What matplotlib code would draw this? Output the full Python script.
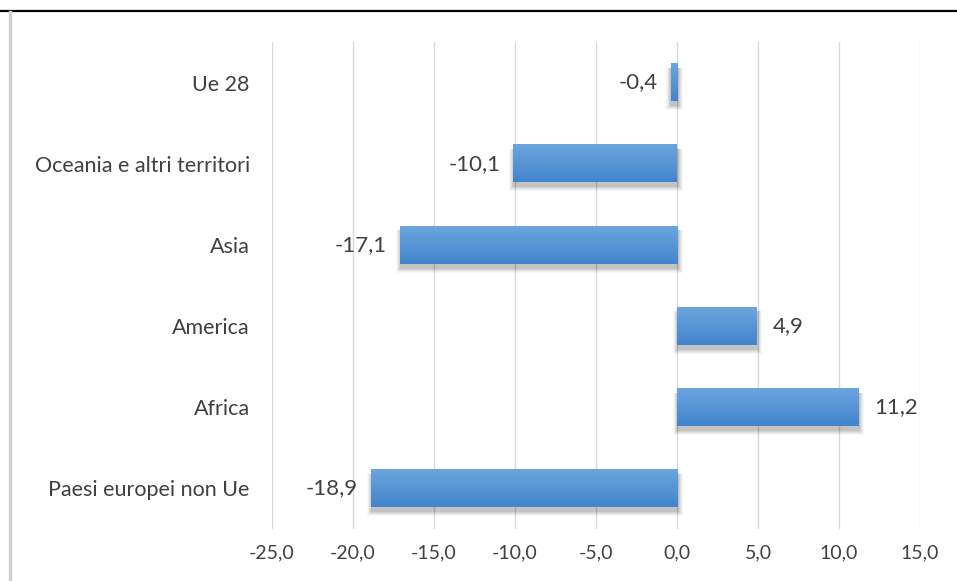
import numpy as np
import matplotlib.pyplot as plt
from matplotlib.lines import Line2D
from matplotlib.patches import Rectangle
from matplotlib.colors import LinearSegmentedColormap

# Variazione percentuale per area geografica
categories = ["Paesi europei non Ue", "Africa", "America", "Asia",
              "Oceania e altri territori", "Ue 28"]
values = [-18.9, 11.2, 4.9, -17.1, -10.1, -0.4]
xticks = [-25, -20, -15, -10, -5, 0, 5, 10, 15]

TEXT = "#404040"
FONT = "Lato"

fig = plt.figure(figsize=(9.57, 5.81), dpi=100)
ax = fig.add_axes([272 / 957, 1 - 529 / 581, 648 / 957, 487 / 581])

# frame lines around the chart area
fig.add_artist(Line2D([0, 1], [1 - 11 / 581] * 2, color="black", lw=1.6,
                      transform=fig.transFigure))
fig.add_artist(Line2D([10 / 957] * 2, [0, 1 - 12 / 581], color="#d0d0d0", lw=2.5,
                      transform=fig.transFigure))

ax.set_xticks(xticks)
ax.set_xticklabels([f"{t:.1f}".replace(".", ",") for t in xticks],
                   fontsize=14, color=TEXT, family=FONT)
ax.tick_params(axis="x", length=0, pad=11)
ax.tick_params(axis="y", length=0, pad=16)
ax.set_yticks(range(len(categories)))
ax.set_yticklabels(categories, fontsize=15.5, color=TEXT, family=FONT)
ax.grid(axis="x", color="#d9d9d9", lw=1)
ax.set_axisbelow(True)
for s in ax.spines.values():
    s.set_visible(False)

# vertical gradient for the bars: lighter on top, darker at the bottom
grad = np.linspace(0, 1, 64).reshape(-1, 1)
cmap = LinearSegmentedColormap.from_list("bar", ["#4285cd", "#6ca5de"])

h = 0.46
for i, v in enumerate(values):
    x0, x1 = min(0, v), max(0, v)
    # soft drop shadow, mostly below the bar
    for k, a in enumerate([0.03, 0.04, 0.05, 0.06, 0.07]):
        grow = 0.06 * (5 - k)
        ax.add_patch(Rectangle((x0 + 0.05 - grow, i - h / 2 - 0.05 - grow * 0.2),
                               x1 - x0 + 2 * grow, h + grow * 0.2, color="black",
                               alpha=a, lw=0, zorder=2))
    ax.imshow(grad, extent=(x0, x1, i - h / 2, i + h / 2), cmap=cmap,
              aspect="auto", origin="lower", zorder=3, interpolation="bilinear")
    label = f"{v:.1f}".replace(".", ",")
    if v < 0:
        ax.text(v - 0.8, i, label, ha="right", va="center", fontsize=16,
                color=TEXT, family=FONT, zorder=4)
    else:
        ax.text(v + 1.0, i, label, ha="left", va="center", fontsize=16,
                color=TEXT, family=FONT, zorder=4)

ax.set_xlim(-25, 15)
ax.set_ylim(-0.5, len(categories) - 0.5)

fig.savefig("out.png", dpi=100)
